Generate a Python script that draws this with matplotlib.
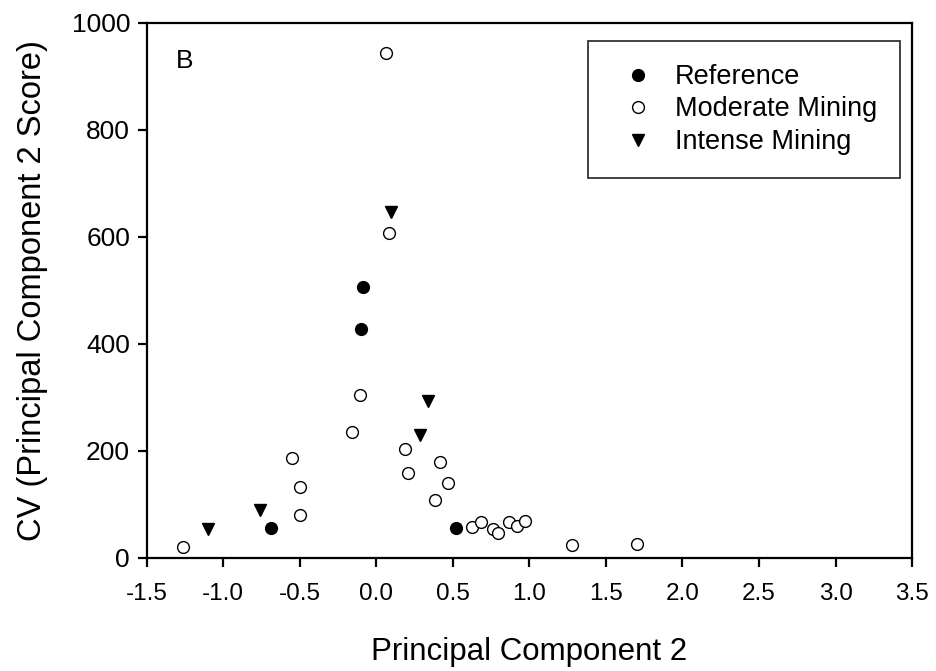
import matplotlib
matplotlib.use('Agg')
import matplotlib.pyplot as plt
from matplotlib.ticker import FormatStrFormatter, MultipleLocator

plt.rcParams['font.family'] = ['Liberation Sans', 'DejaVu Sans']
plt.rcParams['axes.unicode_minus'] = False

# PC2 score vs CV
ref_x = [-0.69, -0.09, -0.10, 0.52]
ref_y = [56, 506, 427, 56]

mod_x = [0.062, 0.082, -0.106, -0.16, 0.19, 0.206, 0.413, 0.471, 0.386,
         -0.548, -0.498, -0.496, 0.628, 0.685, 0.761, 0.798, 0.87, 0.918,
         0.972, -1.263, 1.28, 1.70]
mod_y = [943, 607, 304, 234, 203, 158, 178, 139, 107,
         187, 133, 80, 58, 67, 54, 47, 67, 59,
         69, 20, 23, 26]

int_x = [0.097, 0.337, 0.288, -0.761, -1.097]
int_y = [646, 293, 229, 89, 53]

fig = plt.figure(figsize=(9.36, 6.71), dpi=100)
fig.patch.set_facecolor('white')
ax = fig.add_axes([0.1567, 0.1689, 0.8177, 0.7973])

ax.plot(ref_x, ref_y, linestyle='none', marker='o', markersize=8.5,
        markerfacecolor='black', markeredgecolor='black', label='Reference')
ax.plot(mod_x, mod_y, linestyle='none', marker='o', markersize=8.5,
        markerfacecolor='white', markeredgecolor='black', markeredgewidth=1.0,
        label='Moderate Mining')
ax.plot(int_x, int_y, linestyle='none', marker='v', markersize=8.5,
        markerfacecolor='black', markeredgecolor='black', label='Intense Mining')

ax.set_xlim(-1.5, 3.5)
ax.set_ylim(0, 1000)
ax.xaxis.set_major_locator(MultipleLocator(0.5))
ax.xaxis.set_major_formatter(FormatStrFormatter('%.1f'))
ax.yaxis.set_major_locator(MultipleLocator(200))

for spine in ax.spines.values():
    spine.set_linewidth(1.6)
    spine.set_color('black')

ax.tick_params(axis='both', direction='out', length=6.5, width=1.6,
               colors='black')
ax.tick_params(axis='x', pad=12, labelsize=17.5)
ax.tick_params(axis='y', pad=5.5, labelsize=19)

ax.set_xlabel('Principal Component 2', fontsize=22.5, labelpad=23)
ax.set_ylabel('CV (Principal Component 2 Score)', fontsize=23.5, labelpad=17)

ax.text(0.05, 0.929, 'B', transform=ax.transAxes, fontsize=19,
        ha='center', va='center')

leg = ax.legend(loc='upper right', bbox_to_anchor=(0.9843, 0.9658),
                borderaxespad=0, fontsize=19.5, frameon=True, fancybox=False,
                borderpad=0.85, handlelength=2.0, handletextpad=0.37,
                labelspacing=0.24)
leg.get_frame().set_edgecolor('black')
leg.get_frame().set_linewidth(1.3)

fig.savefig('out.png', dpi=100, facecolor='white')
